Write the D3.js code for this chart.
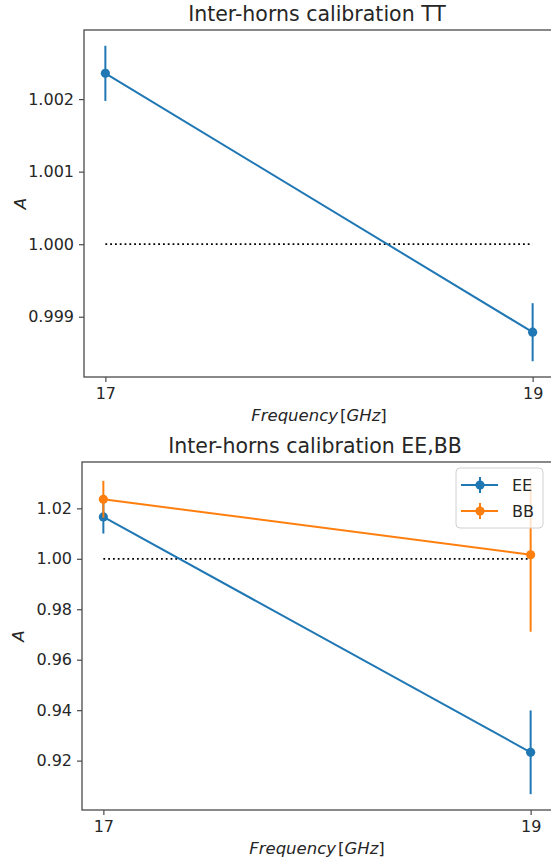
<!DOCTYPE html>
<html>
<head>
<meta charset="utf-8">
<script src="https://cdn.jsdelivr.net/npm/d3@7"></script>
<style>
  html, body { margin: 0; padding: 0; background: #fff; }
  svg { display: block; font-family: "DejaVu Sans", sans-serif; }
</style>
</head>
<body>
<svg id="chart" width="551" height="864"></svg>
<script>
// ---- data ----
const frequencies = [17, 19];
const xTickLabels = ["17", "19"];

const ttValues = [1.002355, 0.998787];
const ttErrors = [0.00038, 0.00040];
const ttTicks = [0.999, 1.000, 1.001, 1.002];

const eeValues = [1.0166, 0.9233];
const eeErrors = [0.0066, 0.0166];
const bbValues = [1.0236, 1.0016];
const bbErrors = [0.0073, 0.0305];
const polTicks = [0.92, 0.94, 0.96, 0.98, 1.00, 1.02];

const referenceLevel = 1.0;
const titles = ["Inter-horns calibration TT", "Inter-horns calibration EE,BB"];
const seriesNames = ["EE", "BB"];

// ---- style ----
const BLUE = "#1f77b4", ORANGE = "#ff7f0e";
const TEXT = "#262626", SPINE = "#4a4a4a";

const svg = d3.select("#chart");

function drawPanel(cfg) {
  const { left, right, top, bottom, title, series, ticks, tickFmt } = cfg;
  const g = svg.append("g");

  const allLo = [], allHi = [];
  series.forEach(s => s.values.forEach((v, i) => { allLo.push(v - s.errors[i]); allHi.push(v + s.errors[i]); }));
  const lo = d3.min(allLo), hi = d3.max(allHi), pad = (hi - lo) * 0.05;
  const y = d3.scaleLinear().domain([lo - pad, hi + pad]).range([bottom, top]);
  const xlo = d3.min(frequencies), xhi = d3.max(frequencies), xpad = (xhi - xlo) * 0.05;
  const x = d3.scaleLinear().domain([xlo - xpad, xhi + xpad]).range([left, right]);

  // reference dotted line
  g.append("line")
    .attr("x1", x(xlo)).attr("x2", x(xhi))
    .attr("y1", y(referenceLevel)).attr("y2", y(referenceLevel))
    .attr("stroke", "#000").attr("stroke-width", 1.8)
    .attr("stroke-dasharray", "1.8,3");

  series.forEach(s => {
    const pts = frequencies.map((f, i) => ({ f, v: s.values[i], e: s.errors[i] }));
    g.append("path").datum(pts)
      .attr("fill", "none").attr("stroke", s.color).attr("stroke-width", 2)
      .attr("d", d3.line().x(d => x(d.f)).y(d => y(d.v)));
    g.selectAll(null).data(pts).enter().append("line")
      .attr("x1", d => x(d.f)).attr("x2", d => x(d.f))
      .attr("y1", d => y(d.v - d.e)).attr("y2", d => y(d.v + d.e))
      .attr("stroke", s.color).attr("stroke-width", 2);
    g.selectAll(null).data(pts).enter().append("circle")
      .attr("cx", d => x(d.f)).attr("cy", d => y(d.v)).attr("r", 4.6)
      .attr("fill", s.color);
  });

  // spines (right spine lies beyond the canvas)
  g.append("rect").attr("x", left).attr("y", top)
    .attr("width", right - left).attr("height", bottom - top)
    .attr("fill", "none").attr("stroke", SPINE).attr("stroke-width", 1.3);

  // axes
  const yAxis = g.append("g").attr("transform", `translate(${left},0)`)
    .call(d3.axisLeft(y).tickValues(ticks).tickFormat(tickFmt).tickSize(5).tickPadding(5));
  const xAxis = g.append("g").attr("transform", `translate(0,${bottom})`)
    .call(d3.axisBottom(x).tickValues(frequencies).tickFormat((d, i) => xTickLabels[i]).tickSize(5).tickPadding(6));
  [yAxis, xAxis].forEach(a => {
    a.select(".domain").remove();
    a.selectAll("line").attr("stroke", SPINE).attr("stroke-width", 1.2);
    a.selectAll("text").attr("fill", TEXT).style("font-size", "16px").style("font-family", "DejaVu Sans");
  });

  // title
  g.append("text").attr("x", (left + right) / 2 - 2).attr("y", top - 9)
    .attr("text-anchor", "middle").attr("fill", TEXT).style("font-size", "20.5px").text(title);

  // x label
  const xl = g.append("text").attr("x", (left + right) / 2).attr("y", bottom + 44)
    .attr("text-anchor", "middle").attr("fill", TEXT).style("font-size", "16.5px");
  xl.append("tspan").style("font-style", "italic").text("Frequency");
  xl.append("tspan").attr("dx", 2).text("[");
  xl.append("tspan").style("font-style", "italic").text("GHz");
  xl.append("tspan").text("]");

  // y label
  g.append("text")
    .attr("transform", `translate(${left - 58},${(top + bottom) / 2}) rotate(-90)`)
    .attr("text-anchor", "middle").attr("fill", TEXT).style("font-size", "16.5px")
    .style("font-style", "italic").text("A");

  return { g, x, y };
}

drawPanel({
  left: 84, right: 554, top: 30, bottom: 377, title: titles[0],
  series: [{ values: ttValues, errors: ttErrors, color: BLUE }],
  ticks: ttTicks, tickFmt: d3.format(".3f")
});

const p2 = drawPanel({
  left: 82, right: 552, top: 462, bottom: 810, title: titles[1],
  series: [
    { values: eeValues, errors: eeErrors, color: BLUE },
    { values: bbValues, errors: bbErrors, color: ORANGE }
  ],
  ticks: polTicks, tickFmt: d3.format(".2f")
});

// legend
const leg = p2.g.append("g").attr("transform", "translate(456,468)");
leg.append("rect").attr("width", 87).attr("height", 60).attr("rx", 4)
  .attr("fill", "#fff").attr("fill-opacity", 0.8)
  .attr("stroke", "#d0d0d0").attr("stroke-width", 1);
[BLUE, ORANGE].forEach((c, i) => {
  const cy = 17 + i * 26;
  const row = leg.append("g").attr("transform", `translate(0,${cy})`);
  row.append("line").attr("x1", 5).attr("x2", 42).attr("stroke", c).attr("stroke-width", 2);
  row.append("line").attr("x1", 24).attr("x2", 24).attr("y1", -8).attr("y2", 8).attr("stroke", c).attr("stroke-width", 2);
  row.append("circle").attr("cx", 24).attr("r", 4.6).attr("fill", c);
  row.append("text").attr("x", 56).attr("dy", "0.35em").attr("fill", TEXT)
    .style("font-size", "16px").text(seriesNames[i]);
});
</script>
</body>
</html>
